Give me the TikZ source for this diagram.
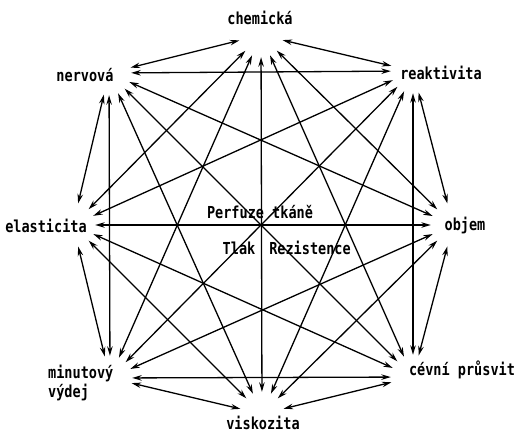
\documentclass[tikz,border=0pt]{standalone}
\usepackage{fontspec}
\newfontfamily\lblfont[FakeStretch=0.82]{DejaVu Sans Mono}
\usetikzlibrary{arrows.meta}
\begin{document}
\begin{tikzpicture}[x=1pt,y=-1pt,
  hub/.style={circle,minimum size=44pt,inner sep=0pt},
  lbl/.style={anchor=base,inner sep=0pt,font=\lblfont\bfseries\fontsize{16.5}{19}\selectfont},
  link/.style={line width=1.3pt,{Stealth[length=9.5pt,width=5.5pt]}-{Stealth[length=9.5pt,width=5.5pt]}}]
\useasboundingbox (0,0) rectangle (518,438);
% hubs (arrow targets)
\node[hub] (C) at (261,35) {};
\node[hub] (R) at (413,71) {};
\node[hub] (O) at (453,225) {};
\node[hub] (V) at (413,377) {};
\node[hub] (K) at (262,414) {};
\node[hub] (M) at (110,378) {};
\node[hub] (E) at (73,225) {};
\node[hub] (N) at (109,73) {};
% labels
\node[lbl] (tC) at (260,25) {chemická};
\node[lbl] (tN) at (85,82) {nervová};
\node[lbl] (tR) at (441,80) {reaktivita};
\node[lbl] (tE) at (46,232) {elasticita};
\node[lbl] (tO) at (465,230) {objem};
\node[lbl,anchor=base west] (tM1) at (48,378) {minutový};
\node[lbl,anchor=base west] (tM2) at (48,397) {výdej};
\node[lbl] (tV) at (462,375) {cévní průsvit};
\node[lbl] (tK) at (263,429) {viskozita};
\node[lbl] (tP) at (260,218) {Perfuze tkáně};
\node[lbl] (tT) at (239,254) {Tlak};
\node[lbl] (tZ) at (310,254) {Rezistence};
% connectors: every pair
\foreach \a/\b in {C/R,C/O,C/V,C/K,C/M,C/E,C/N,
                   R/O,R/V,R/K,R/M,R/E,R/N,
                   O/V,O/K,O/M,O/E,O/N,
                   V/K,V/M,V/E,V/N,
                   K/M,K/E,K/N,
                   M/E,M/N,
                   E/N}
  \draw[link] (\a) -- (\b);
\end{tikzpicture}
\end{document}
